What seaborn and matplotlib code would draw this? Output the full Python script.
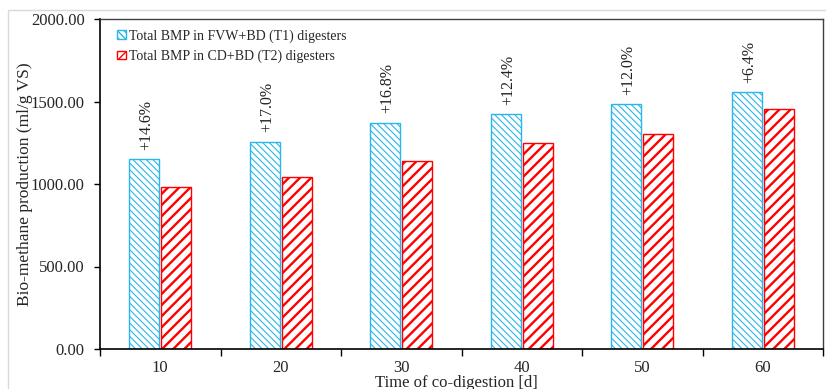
import matplotlib
matplotlib.use("Agg")
import matplotlib.pyplot as plt
import seaborn as sns
import pandas as pd
import numpy as np
from matplotlib.patches import Rectangle
from matplotlib.ticker import FixedLocator, FuncFormatter

# ---- data ----
days = ["10", "20", "30", "40", "50", "60"]
t1_values = [1150, 1256, 1372, 1422, 1483, 1555]
t2_values = [980, 1040, 1141, 1246, 1305, 1455]
increase_labels = ["+14.6%", "+17.0%", "+16.8%", "+12.4%", "+12.0%", "+6.4%"]
series_names = ["Total BMP in FVW+BD (T1) digesters", "Total BMP in CD+BD (T2) digesters"]
y_ticks = [0, 500, 1000, 1500, 2000]

df = pd.DataFrame({
    "day": days * 2,
    "bmp": t1_values + t2_values,
    "series": [series_names[0]] * len(days) + [series_names[1]] * len(days),
})

sns.set_style("white")
plt.rcParams["font.family"] = ["Liberation Serif", "DejaVu Serif"]

blue = "#29B6EA"
red = "#FF0000"

fig = plt.figure(figsize=(8.26, 3.89), dpi=100)
ax = fig.add_axes([100 / 826, 1 - 349 / 389, 723 / 826, 330 / 389])

# light chart border
fig.patches.append(Rectangle((8 / 826, -0.05), 1.1, 1 - 10 / 389 + 0.05,
                             transform=fig.transFigure, facecolor="none",
                             edgecolor="#d9d9d9", linewidth=1.0, zorder=0))

sns.barplot(data=df, x="day", y="bmp", hue="series", order=days,
            hue_order=series_names, palette=[blue, red], width=0.53, gap=0.06,
            fill=False, linewidth=1.0, errorbar=None, ax=ax, legend=False)

hatches = ["\\" * 5, "///"]
hatch_lw = [0.8, 1.7]
colors = [blue, red]
for cont, h, hl, c in zip(ax.containers, hatches, hatch_lw, colors):
    for p in cont:
        p.set_hatch(h)
        p.set_edgecolor(c)
        p.set_facecolor("none")
        try:
            p.set_hatch_linewidth(hl)
        except AttributeError:
            pass

# annotations above T1 bars
for p, txt in zip(ax.containers[0], increase_labels):
    ax.annotate(txt, (p.get_x() + p.get_width() / 2, p.get_height()),
                xytext=(1.5, 7), textcoords="offset points", rotation=90,
                ha="center", va="bottom", fontsize=11.5, color="#222222")

ax.set_ylim(0, 2000)
ax.set_xlim(-0.5, len(days) - 0.5)
ax.yaxis.set_major_locator(FixedLocator(y_ticks))
ax.yaxis.set_major_formatter(FuncFormatter(lambda v, pos: f"{v:.2f}"))
ax.tick_params(axis="y", direction="out", length=4, width=1, pad=7,
               labelsize=12, left=True, color="black")

# x: ticks at category boundaries, labels at centres
ax.set_xticks(np.arange(-0.5, len(days), 1.0))
ax.set_xticklabels([])
ax.set_xticks(np.arange(len(days)), minor=True)
ax.set_xticklabels(days, minor=True)
ax.tick_params(axis="x", which="major", direction="out", length=5, width=1,
               bottom=True, color="black")
ax.tick_params(axis="x", which="minor", length=0, pad=8, labelsize=12)

ax.set_xlabel("Time of co-digestion [d]", fontsize=12)
ax.set_ylabel("Bio-methane production (ml/g VS)", fontsize=12.5)
ax.xaxis.set_label_coords(0.493, -0.079)
ax.yaxis.set_label_coords(-0.092, 0.5)

for s in ["left", "bottom"]:
    ax.spines[s].set_color("black")
    ax.spines[s].set_linewidth(1.2)
for s in ["top", "right"]:
    ax.spines[s].set_color("#404040")
    ax.spines[s].set_linewidth(1.0)

ax.legend(handles=list(ax.containers), labels=series_names, loc="upper left",
          bbox_to_anchor=(0.024, 0.969), frameon=False, fontsize=10,
          handlelength=0.6, handleheight=0.6, handletextpad=0.25,
          labelspacing=0.5, borderpad=0, borderaxespad=0)

fig.savefig("out.png", dpi=100)
